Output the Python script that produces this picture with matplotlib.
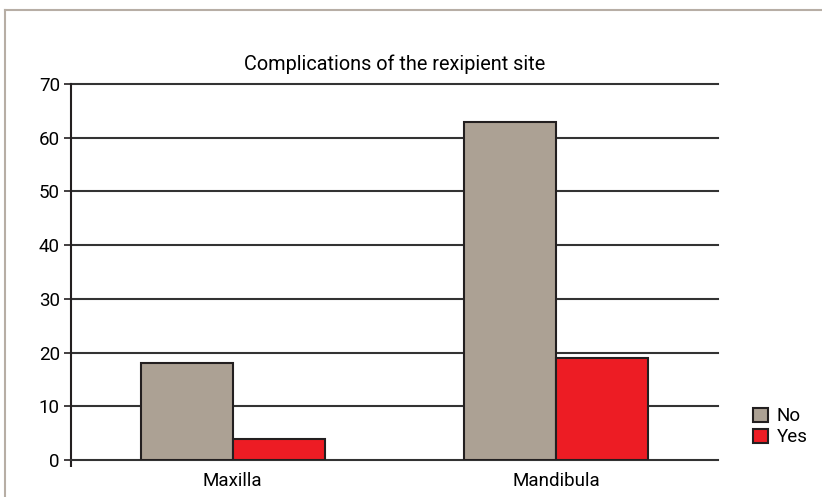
import matplotlib
matplotlib.use("Agg")
import numpy as np
import matplotlib.pyplot as plt
from matplotlib.lines import Line2D
from matplotlib.patches import Patch

plt.rcParams['font.family'] = ['Roboto', 'DejaVu Sans']

categories = ["Maxilla", "Mandibula"]
series_names = ["No", "Yes"]
no_values = [18, 63]
yes_values = [4, 19]
y_ticks = [0, 10, 20, 30, 40, 50, 60, 70]

colors = ["#aca194", "#ed1c24"]
edge = "#231f20"


def main():
    fig = plt.figure(figsize=(8.22, 4.97), dpi=100)
    ax = fig.add_axes([71 / 822, 1 - 460 / 497, 647 / 822, 376 / 497])

    x = np.arange(len(categories))
    w = 0.285
    ax.bar(x - w / 2, no_values, w, color=colors[0], edgecolor=edge,
           linewidth=1.5, zorder=3)
    ax.bar(x + w / 2, yes_values, w, color=colors[1], edgecolor=edge,
           linewidth=1.5, zorder=3)

    ax.set_xlim(-0.5, 1.5)
    ax.set_ylim(0, 70)
    ax.set_yticks(y_ticks)
    ax.set_xticks(x)
    ax.set_xticklabels(categories)
    ax.set_xticks([-0.5], minor=True)
    ax.tick_params(axis="x", which="major", length=0, pad=9, labelsize=13.5)
    ax.tick_params(axis="x", which="minor", length=5, width=1.5,
                   color=edge)
    ax.tick_params(axis="y", length=5, width=1.2, color=edge, labelsize=13.5,
                   pad=3)

    # horizontal grid lines, drawn behind the bars
    for t in y_ticks[1:]:
        ax.axhline(t, color="#333333", linewidth=1.5, zorder=1,
                   clip_on=False)
    for s in ["top", "right"]:
        ax.spines[s].set_visible(False)
    ax.spines["left"].set_linewidth(1.5)
    ax.spines["left"].set_color(edge)
    ax.spines["bottom"].set_linewidth(1.5)
    ax.spines["bottom"].set_color("#333333")

    ax.set_title("Complications of the rexipient site", fontsize=14.3, pad=10)

    handles = [Patch(facecolor=c, edgecolor=edge, linewidth=1.5)
               for c in colors]
    fig.legend(handles, series_names, loc="upper left",
               bbox_to_anchor=(744 / 822, 1 - 398 / 497), frameon=False,
               fontsize=13.5, handlelength=0.8, handleheight=0.8,
               handletextpad=0.45, labelspacing=0.15, borderpad=0)

    # outer frame of the figure panel
    fig.add_artist(Line2D([5 / 822, 1], [1 - 10 / 497, 1 - 10 / 497],
                          color="#b7aea5", linewidth=1.5))
    fig.add_artist(Line2D([5 / 822, 5 / 822], [0, 1 - 10 / 497],
                          color="#b7aea5", linewidth=1.5))

    fig.savefig("out.png", dpi=100)


if __name__ == '__main__':
    main()
